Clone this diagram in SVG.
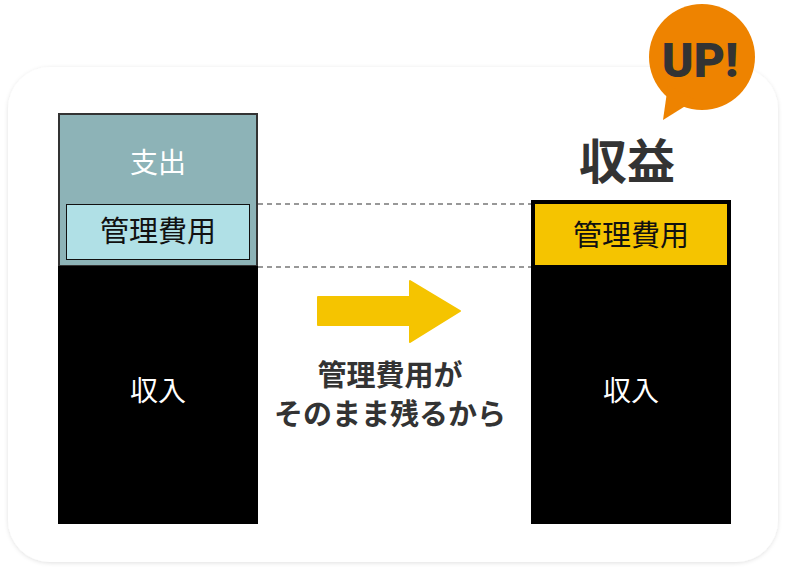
<svg xmlns="http://www.w3.org/2000/svg" width="788" height="575" viewBox="0 0 788 575">
<style>
.t{font-family:"Noto Sans CJK JP","Noto Sans",sans-serif}
.w{fill:#fff;font-size:28px;font-weight:400}
.k{fill:#111;font-size:29px;font-weight:400}
.b{fill:#333;font-weight:bold}
</style>
<defs><filter id="s" x="-5%" y="-5%" width="110%" height="110%"><feDropShadow dx="0" dy="1" stdDeviation="2" flood-color="#000" flood-opacity="0.12"/></filter></defs>
<rect x="8" y="67" width="770" height="495" rx="42" fill="#fff" filter="url(#s)"/>
<g id="connectors" stroke="#777" stroke-width="1.5" stroke-dasharray="5,4">
<line x1="258" y1="204" x2="531" y2="204"/>
<line x1="258" y1="267" x2="531" y2="267"/>
</g>
<g id="left">
<rect x="59" y="114" width="198" height="152" fill="#8db3b7" stroke="#333" stroke-width="2"/>
<rect x="66.5" y="204.5" width="183" height="55" fill="#b0e0e6" stroke="#111" stroke-width="1"/>
<rect x="58" y="266" width="200" height="258" fill="#000"/>
<text class="t w" x="158" y="173" text-anchor="middle">支出</text>
<text class="t k" x="158" y="242" text-anchor="middle">管理費用</text>
<text class="t w" x="158" y="401" text-anchor="middle">収入</text>
</g>
<g id="arrow">
<polygon points="318,297 410,297 410,281 460,311 410,342 410,325 318,325" fill="#f5c400" stroke="#f5c400" stroke-width="2" stroke-linejoin="round"/>
<text class="t b" x="390" y="386" font-size="29" text-anchor="middle">管理費用が</text>
<text class="t b" x="390" y="425" font-size="29" text-anchor="middle">そのまま残るから</text>
</g>
<g id="right">
<rect x="531" y="266" width="200" height="258" fill="#000"/>
<rect x="533" y="202" width="196" height="65" fill="#f5c400" stroke="#000" stroke-width="4"/>
<text class="t k" x="631" y="246" text-anchor="middle">管理費用</text>
<text class="t w" x="631" y="401" text-anchor="middle">収入</text>
<text class="t b" x="627" y="179" font-size="48" text-anchor="middle">収益</text>
</g>
<g id="up">
<circle cx="702" cy="57" r="53" fill="#ee8300"/>
<polygon points="663,120 668,85 695,100" fill="#ee8300"/>
<text x="700" y="77" font-family="Roboto,'Liberation Sans',sans-serif" font-weight="900" font-size="48" fill="#333" text-anchor="middle">UP!</text>
</g>
</svg>
